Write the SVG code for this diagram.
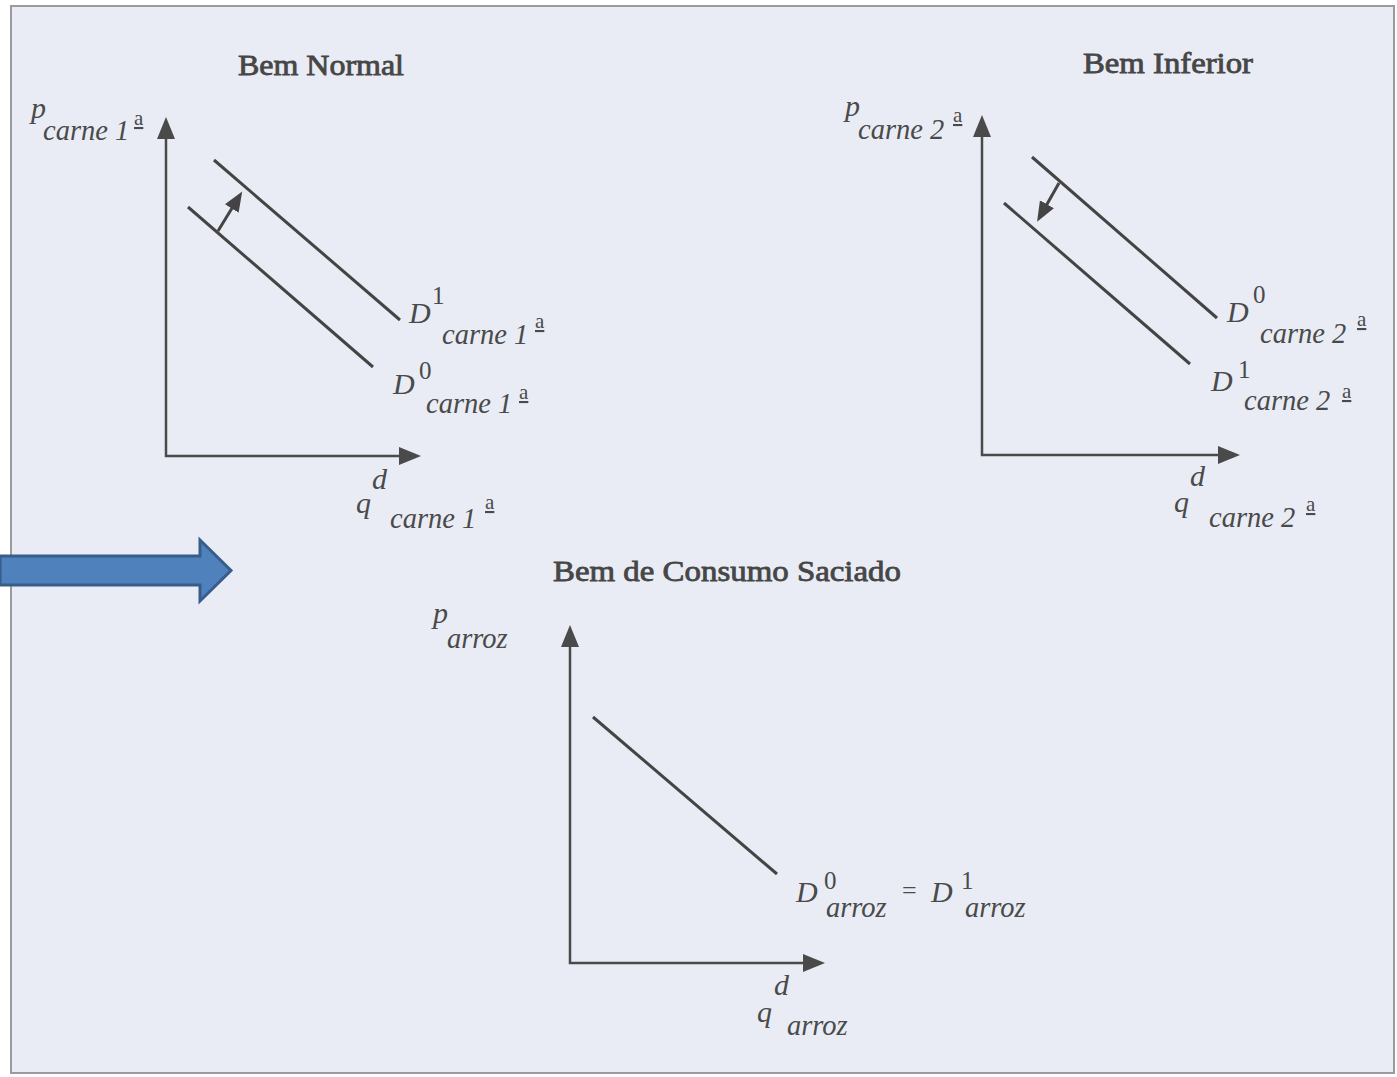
<svg xmlns="http://www.w3.org/2000/svg" width="1397" height="1077" viewBox="0 0 1397 1077">
<style>
.title{font-family:"Liberation Serif",serif;font-size:29px;fill:#464646;stroke:#464646;stroke-width:0.8}
.lbl{font-family:"Liberation Serif",serif;fill:#4a4a4a}
.it{font-style:italic;font-size:30px}
.sub{font-style:italic;font-size:28.5px}
.sup{font-style:normal;font-size:25px}
.ord{font-style:normal;font-size:21px;text-decoration:underline}
.eq{font-style:normal;font-size:26px}
.axis{stroke:#4a4a4a;stroke-width:2.5;fill:none}
.dem{stroke:#444;stroke-width:3;fill:none;stroke-linecap:butt}
.shift{stroke:#444;stroke-width:3;fill:none}
</style>
<defs>
<marker id="axhead" markerUnits="userSpaceOnUse" markerWidth="24" markerHeight="20" refX="12" refY="9" orient="auto-start-reverse">
<path d="M0,0 L22,9 L0,18 z" fill="#4a4a4a"/>
</marker>
<marker id="shhead" markerUnits="userSpaceOnUse" markerWidth="22" markerHeight="18" refX="10" refY="8" orient="auto">
<path d="M0,0 L20,8 L0,16 z" fill="#444"/>
</marker>
</defs>
<rect x="0" y="0" width="1397" height="1077" fill="#ffffff"/>
<rect x="11" y="6" width="1383" height="1067" fill="#e9ecf5" stroke="#9b9b9b" stroke-width="2"/>

<g id="panel-normal">
<text class="title" x="238" y="75" textLength="166" lengthAdjust="spacingAndGlyphs">Bem Normal</text>
<text class="lbl"><tspan class="it" x="31" y="118">p</tspan><tspan class="sub" x="43" y="140">carne 1</tspan><tspan class="ord" x="134" y="125">a</tspan></text>
<text class="lbl"><tspan class="it" x="409" y="323">D</tspan><tspan class="sup" x="432" y="304">1</tspan><tspan class="sub" x="442" y="344">carne 1</tspan><tspan class="ord" x="535" y="328">a</tspan></text>
<text class="lbl"><tspan class="it" x="393" y="394">D</tspan><tspan class="sup" x="419" y="379">0</tspan><tspan class="sub" x="426" y="413">carne 1</tspan><tspan class="ord" x="519" y="399">a</tspan></text>
<text class="lbl"><tspan class="it" x="372" y="489">d</tspan><tspan class="it" x="356" y="513">q</tspan><tspan class="sub" x="390" y="528">carne 1</tspan><tspan class="ord" x="485" y="509">a</tspan></text>
</g>

<g id="panel-inferior">
<text class="title" x="1083" y="73" textLength="170" lengthAdjust="spacingAndGlyphs">Bem Inferior</text>
<text class="lbl"><tspan class="it" x="845" y="116">p</tspan><tspan class="sub" x="858" y="139">carne 2</tspan><tspan class="ord" x="953" y="122">a</tspan></text>
<text class="lbl"><tspan class="it" x="1227" y="322">D</tspan><tspan class="sup" x="1253" y="303">0</tspan><tspan class="sub" x="1260" y="343">carne 2</tspan><tspan class="ord" x="1357" y="326">a</tspan></text>
<text class="lbl"><tspan class="it" x="1211" y="391">D</tspan><tspan class="sup" x="1238" y="378">1</tspan><tspan class="sub" x="1244" y="410">carne 2</tspan><tspan class="ord" x="1342" y="398">a</tspan></text>
<text class="lbl"><tspan class="it" x="1190" y="486">d</tspan><tspan class="it" x="1174" y="512">q</tspan><tspan class="sub" x="1209" y="527">carne 2</tspan><tspan class="ord" x="1306" y="511">a</tspan></text>
</g>

<g id="panel-saciado">
<text class="title" x="553" y="581" textLength="348" lengthAdjust="spacingAndGlyphs">Bem de Consumo Saciado</text>
<text class="lbl"><tspan class="it" x="433" y="623">p</tspan><tspan class="sub" x="447" y="648">arroz</tspan></text>
<text class="lbl"><tspan class="it" x="796" y="902">D</tspan><tspan class="sup" x="824" y="889">0</tspan><tspan class="sub" x="826" y="917">arroz</tspan><tspan class="eq" x="902" y="899">=</tspan><tspan class="it" x="931" y="902">D</tspan><tspan class="sup" x="961" y="889">1</tspan><tspan class="sub" x="965" y="917">arroz</tspan></text>
<text class="lbl"><tspan class="it" x="774" y="995">d</tspan><tspan class="it" x="757" y="1022">q</tspan><tspan class="sub" x="787" y="1035">arroz</tspan></text>
</g>

<g id="connectors">
<polyline class="axis" points="166,127 166,456 411,456" marker-start="url(#axhead)" marker-end="url(#axhead)"/>
<line class="dem" x1="214" y1="160" x2="400" y2="320"/>
<line class="dem" x1="188" y1="207" x2="373" y2="367"/>
<line class="shift" x1="218" y1="231" x2="237" y2="200" marker-end="url(#shhead)"/>
<polyline class="axis" points="982,125 982,455 1230,455" marker-start="url(#axhead)" marker-end="url(#axhead)"/>
<line class="dem" x1="1032" y1="157" x2="1217" y2="318"/>
<line class="dem" x1="1004" y1="203" x2="1190" y2="364"/>
<line class="shift" x1="1059" y1="183" x2="1042" y2="213" marker-end="url(#shhead)"/>
<polyline class="axis" points="570,635 570,963 815,963" marker-start="url(#axhead)" marker-end="url(#axhead)"/>
<line class="dem" x1="593" y1="717" x2="777" y2="874"/>
</g>

<g id="blue-arrow">
<polygon points="0,556 200,556 200,540 231,570.5 200,601 200,585 0,585" fill="#4f81bd" stroke="#385d8a" stroke-width="3" stroke-linejoin="miter"/>
</g>
</svg>
